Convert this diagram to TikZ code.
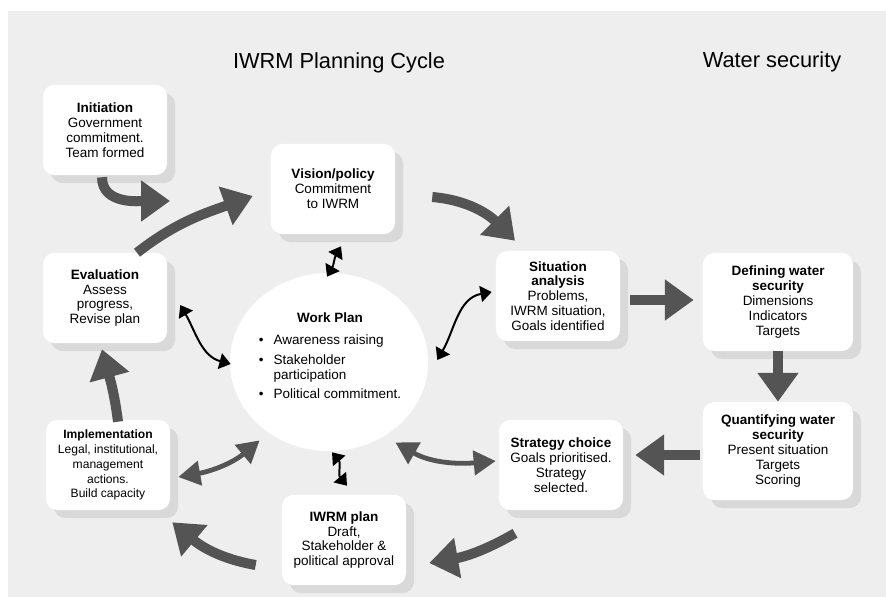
\documentclass[tikz,border=0pt]{standalone}
\usepackage{fontspec}
\setmainfont{Liberation Sans}
\usepackage{xcolor}
\usepackage{tikz}
\usetikzlibrary{arrows.meta, shapes.geometric, shadows}

\definecolor{arrowgray}{gray}{0.33}
\definecolor{paper}{gray}{0.935}

\begin{document}
\begin{tikzpicture}[x=0.025cm, y=0.025cm,
    stage/.style={fill=white, rounded corners=8pt, align=center, inner sep=2pt,
        minimum width=3.1cm, minimum height=2.25cm,
        font=\fontsize{9.6}{10.6}\selectfont,
        drop shadow={shadow xshift=0.2cm, shadow yshift=-0.2cm, fill=black!15, opacity=1}},
    wide/.style={minimum width=3.75cm, minimum height=2.45cm},
    workplan/.style={ellipse, fill=white, minimum width=4.95cm, minimum height=4.45cm, inner sep=0pt},
    title/.style={font=\fontsize{15.5}{18}\selectfont},
    bigarrow/.style={draw=arrowgray, line width=0.25cm, -{Triangle[length=0.72cm, width=0.98cm]}},
    linkarrow/.style={draw=arrowgray, line width=0.12cm,
        {Triangle[length=0.55cm, width=0.6cm]}-{Triangle[length=0.55cm, width=0.6cm]}},
    thinarrow/.style={draw=black, line width=1.4pt,
        {Triangle[length=0.28cm, width=0.4cm]}-{Triangle[length=0.28cm, width=0.4cm]}}
]
    \useasboundingbox (0,0) rectangle (886,-597);
    \fill[paper] (8,-11) rectangle (886,-597);

    % Titles
    \node[title] (cycle) at (339,-63) {IWRM Planning Cycle};
    \node[title] (security) at (772,-62) {Water security};

    % Initiation
    \node[stage] (init) at (105,-130) {\textbf{Initiation}\\Government\\commitment.\\Team formed};

    % Vision/policy
    \node[stage] (vision) at (333,-189) {\textbf{Vision/policy}\\Commitment\\to IWRM};

    % Situation analysis
    \node[stage] (sit) at (558,-296) {\textbf{Situation}\\\textbf{analysis}\\Problems,\\IWRM situation,\\Goals identified};

    % Defining water security
    \node[stage, wide] (def) at (778,-302) {\textbf{Defining water}\\\textbf{security}\\Dimensions\\Indicators\\Targets};

    % Quantifying water security
    \node[stage, wide] (quant) at (778,-451) {\textbf{Quantifying water}\\\textbf{security}\\Present situation\\Targets\\Scoring};

    % Strategy choice
    \node[stage] (strat) at (561,-465) {\textbf{Strategy choice}\\Goals prioritised.\\Strategy\\selected.};

    % IWRM plan
    \node[stage] (plan) at (344,-540) {\textbf{IWRM plan}\\Draft,\\Stakeholder \&\\political approval};

    % Implementation
    \node[stage, font=\fontsize{8.6}{10.6}\selectfont] (impl) at (108,-465) {\textbf{Implementation}\\Legal, institutional,\\management\\actions.\\Build capacity};

    % Evaluation
    \node[stage] (eval) at (105,-298) {\textbf{Evaluation}\\Assess\\progress,\\Revise plan};

    % Work plan
    \node[workplan] (wp) at (329,-362) {};
    \node[align=center, font=\fontsize{9.6}{10.8}\selectfont] (wptext) at (330,-358) {\textbf{Work Plan}\\[7pt]
        \begin{tabular}{@{}c@{\hspace{7pt}}l@{}}
            \textbullet & Awareness raising\\[3pt]
            \textbullet & Stakeholder\\
                        & participation\\[3pt]
            \textbullet & Political commitment.
        \end{tabular}};

    % Cycle
    \coordinate (initend) at (170,-201);
    \draw[bigarrow] ([shift={(-3,-2)}]init.south) to[out=-90, in=180] (initend);
    \draw[bigarrow] ([shift={(32,0)}]eval.north) to[out=38, in=200] ([shift={(-18,-7)}]vision.west);
    \draw[bigarrow] ([shift={(37,-8)}]vision.east) to[out=-5, in=135] ([shift={(-43,10)}]sit.north);
    \draw[bigarrow] ([shift={(10,-4)}]sit.east) -- ([shift={(-9,2)}]def.west);
    \draw[bigarrow] (def.south) -- (quant.north);
    \draw[bigarrow] ([shift={(-3,-4)}]quant.west) -- ([shift={(12,10)}]strat.east);
    \draw[bigarrow] ([shift={(-46,-23)}]strat.south) to[out=210, in=10] ([shift={(23,-23)}]plan.east);
    \draw[bigarrow] ([shift={(-26,-25)}]plan.west) to[out=170, in=-40] ([shift={(2,-12)}]impl.south east);
    \draw[bigarrow] ([shift={(10,-2)}]impl.north) to[out=97, in=-75] ([shift={(-3,-6)}]eval.south);

    % Links to the work plan
    \draw[thinarrow] ([shift={(-2,-4)}]wp.north) to[out=60, in=-120] ([shift={(8,-12)}]vision.south);
    \draw[thinarrow] ([shift={(13,-7)}]eval.east) to[out=-60, in=165] ([shift={(1,-2)}]wp.west);
    \draw[thinarrow] ([shift={(9,2)}]wp.east) to[out=60, in=190] ([shift={(-4,4)}]sit.west);
    \draw[thinarrow] ([shift={(3,-1)}]wp.south) to[out=-50, in=130] ([shift={(3,9)}]plan.north);
    \draw[linkarrow] ([shift={(8,-12)}]impl.east) to[out=10, in=220] ([shift={(-3,-12)}]wp.225);
    \draw[linkarrow] ([shift={(0,-14)}]wp.315) to[out=-30, in=185] ([shift={(-3,4)}]strat.west);
\end{tikzpicture}
\end{document}
